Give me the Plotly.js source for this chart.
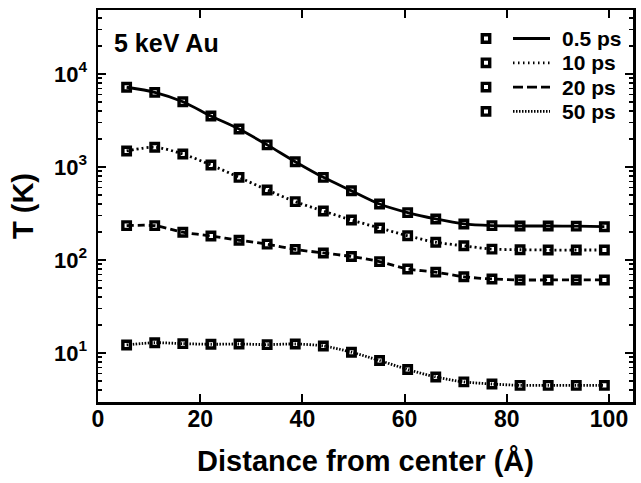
<!DOCTYPE html>
<html>
<head>
<meta charset="utf-8">
<script src="https://cdn.plot.ly/plotly-3.0.1.min.js"></script>
<style>html,body{margin:0;padding:0;background:#fff;}#chart{width:641px;height:483px;}</style>
</head>
<body>
<div id="chart"></div>
<script>
// ---- data ----
const distance = [5.6, 11.1, 16.6, 22.1, 27.6, 33.1, 38.6, 44.1, 49.6, 55.1, 60.6, 66.1, 71.6, 77.1, 82.6, 88.1, 93.6, 99.1];
const T_05ps = [7200, 6350, 5030, 3530, 2560, 1730, 1140, 774, 556, 400, 323, 276, 244, 234, 232, 232, 231, 228];
const T_10ps = [1486, 1630, 1380, 1052, 774, 566, 424, 336, 269, 221, 182, 155, 142, 131, 129, 128, 128, 128];
const T_20ps = [234, 234, 199, 181, 163, 148, 130, 119, 109, 96, 80, 74, 66, 62.5, 61, 61, 61, 61];
const T_50ps = [12.2, 12.9, 12.6, 12.4, 12.5, 12.3, 12.5, 11.9, 10.2, 8.3, 6.65, 5.52, 4.89, 4.64, 4.49, 4.49, 4.49, 4.49];
const seriesNames = ['0.5 ps', '10 ps', '20 ps', '50 ps'];
const xTickVals = [0, 20, 40, 60, 80, 100];
const yTickVals = [10, 100, 1000, 10000];
const yTickText = ['10<sup>1</sup>', '10<sup>2</sup>', '10<sup>3</sup>', '10<sup>4</sup>'];
const panelLabel = '5 keV Au';
const xTitle = 'Distance from center (Å)';
const yTitle = 'T (K)';

const FONT = 'Liberation Sans, Arial, Helvetica, sans-serif';
const dashes = ['solid', '2px,3px', '7px,4px', '1.5px,1.5px'];
const legendDashes = ['solid', '1.5px,3.5px', '10px,4px', '1.5px,1.5px'];
const seriesValues = [T_05ps, T_10ps, T_20ps, T_50ps];

const traces = seriesValues.map((vals, i) => ({
  x: distance, y: vals, name: seriesNames[i], type: 'scatter', mode: 'lines+markers',
  line: {color: '#000', width: 2.8, dash: dashes[i], shape: 'spline', smoothing: 0.8},
  marker: {symbol: 'square-open', size: 7.5, color: '#000', line: {width: 3.4, color: '#000'}},
  showlegend: false
}));

// minor tick positions on the log axis (2..9 x each decade)
const minorVals = [];
for (let d = 1; d <= 10000; d *= 10) for (let m = 2; m <= 9; m++) minorVals.push(m * d);

// plot-area geometry in pixels (for the hand-drawn legend)
const L = 98, R = 633, T = 10, B = 402;
const px = v => (v - L) / (R - L);
const py = v => (B - v) / (B - T);
const rowY = [38.5, 62.8, 87.1, 111.4];
const shapes = [], annotations = [];
seriesNames.forEach((nm, i) => {
  const yy = rowY[i];
  shapes.push({type: 'rect', xref: 'paper', yref: 'paper', x0: px(482.3), x1: px(489.7), y0: py(yy + 3.7), y1: py(yy - 3.7), line: {color: '#000', width: 3.4}, fillcolor: 'rgba(0,0,0,0)'});
  shapes.push({type: 'line', xref: 'paper', yref: 'paper', x0: px(513), x1: px(550), y0: py(yy), y1: py(yy), line: {color: '#000', width: 2.8, dash: legendDashes[i]}});
  annotations.push({xref: 'paper', yref: 'paper', x: px(560), y: py(yy), xanchor: 'left', yanchor: 'middle', showarrow: false, text: nm, font: {family: FONT, size: 21, color: '#000', weight: 700}});
});
annotations.push({xref: 'paper', yref: 'paper', x: px(112), y: py(43), xanchor: 'left', yanchor: 'middle', showarrow: false, text: panelLabel, font: {family: FONT, size: 25, color: '#000', weight: 700}});

const axisCommon = {
  showline: true, linecolor: '#000', linewidth: 2.5, mirror: 'ticks', ticks: 'inside',
  tickcolor: '#000', tickwidth: 2, showgrid: false, zeroline: false
};

const layout = {
  width: 641, height: 483,
  margin: {l: L, r: 641 - R, t: T, b: 483 - B, pad: 0},
  paper_bgcolor: '#fff', plot_bgcolor: '#fff',
  font: {family: FONT, color: '#000'},
  xaxis: Object.assign({}, axisCommon, {
    range: [0, 104.7], tickmode: 'array', tickvals: xTickVals, ticklen: 8,
    tickfont: {family: FONT, size: 23, weight: 700}, ticklabelstandoff: -5,
    title: {text: xTitle, font: {family: FONT, size: 29, weight: 700}, standoff: 20}
  }),
  yaxis: Object.assign({}, axisCommon, {
    type: 'log', range: [0.473, 4.688], tickmode: 'array', tickvals: yTickVals, ticktext: yTickText, ticklen: 8,
    tickfont: {family: FONT, size: 22, weight: 700}, ticklabelstandoff: 4,
    minor: {tickmode: 'array', tickvals: minorVals, ticks: 'inside', ticklen: 4, tickwidth: 1.5, tickcolor: '#000'},
    title: {text: yTitle, font: {family: FONT, size: 29, weight: 700}, standoff: 12}
  }),
  shapes: shapes, annotations: annotations, showlegend: false
};

Plotly.newPlot('chart', traces, layout, {displayModeBar: false, staticPlot: true});
</script>
</body>
</html>
